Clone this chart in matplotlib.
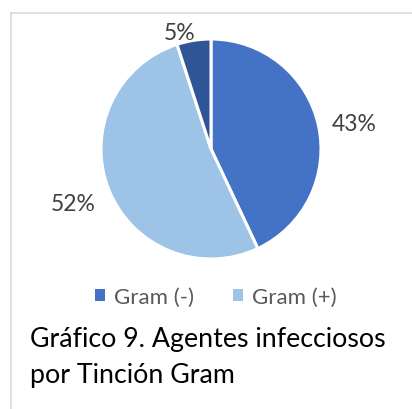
import matplotlib
matplotlib.use("Agg")
import matplotlib.pyplot as plt
from matplotlib.lines import Line2D
from matplotlib.patches import Patch
import numpy as np

categories = ["Gram (-)", "Gram (+)", ""]
values = [43, 52, 5]
colors = ["#4472C4", "#9DC3E6", "#2F5597"]
label_texts = ["43%", "52%", "5%"]
caption_lines = ["Gráfico 9. Agentes infecciosos", "por Tinción Gram"]

plt.rcParams['font.family'] = ['Lato', 'DejaVu Sans']

W, H = 412, 410
fig = plt.figure(figsize=(W / 100, H / 100), dpi=100)

# pie axes: center (211,150) px from top, radius 110 px
cx, cy, r = 211, 150, 110
ax = fig.add_axes([(cx - r) / W, 1 - (cy + r) / H, 2 * r / W, 2 * r / H])
wedges, _ = ax.pie(values, colors=colors, startangle=90, counterclock=False,
                   radius=1, wedgeprops=dict(edgecolor="white", linewidth=2.2))
ax.set_xlim(-1, 1)
ax.set_ylim(-1, 1)
ax.set_aspect("equal")
ax.axis("off")

dists = [1.32, 1.35, 1.1]
offsets = [-2.5, 0, 6]
for w, t, d, off in zip(wedges, label_texts, dists, offsets):
    ang = np.deg2rad((w.theta1 + w.theta2) / 2 + off)
    ax.text(d * np.cos(ang), d * np.sin(ang), t, ha="center", va="center",
            fontsize=16.5, color="#404040", clip_on=False)

handles = [Patch(facecolor=colors[i], edgecolor="none", label=categories[i]) for i in range(2)]
fig.legend(handles=handles, loc="center", bbox_to_anchor=(216 / W, 1 - 298 / H),
           ncol=2, frameon=False, fontsize=16, labelcolor="#595959",
           handlelength=0.45, handleheight=0.45, handletextpad=0.4, columnspacing=1.75)

fig.text(30 / W, 1 - 340 / H, caption_lines[0], fontsize=19.3, color="black", va="center", ha="left")
fig.text(30 / W, 1 - 376 / H, caption_lines[1], fontsize=19.3, color="black", va="center", ha="left")

# chart border (left and top visible)
fig.add_artist(Line2D([10.5 / W, 10.5 / W], [0, 1 - 13.5 / H], color="#D9D9D9", lw=1.2))
fig.add_artist(Line2D([10.5 / W, 1], [1 - 13.5 / H, 1 - 13.5 / H], color="#D9D9D9", lw=1.2))

fig.savefig("out.png", dpi=100, facecolor="white")
